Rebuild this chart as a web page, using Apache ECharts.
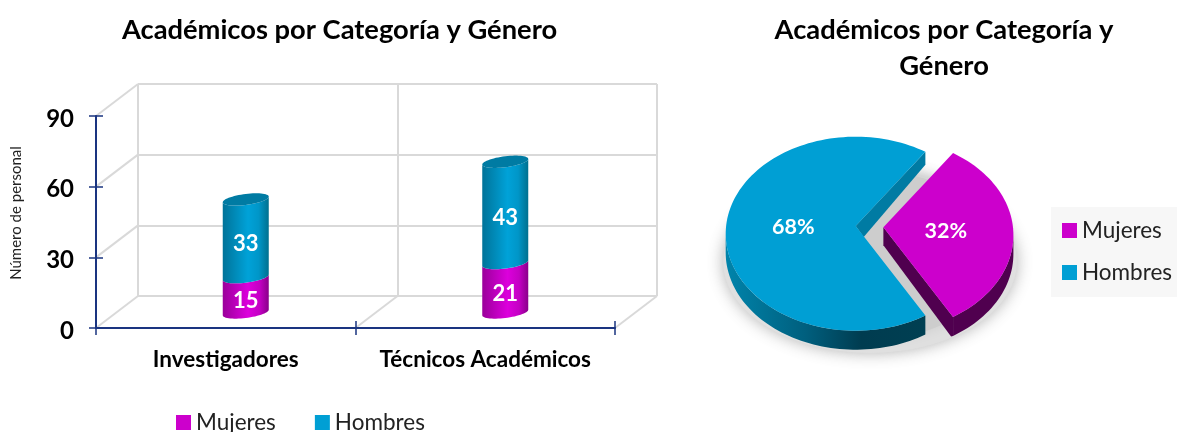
<!DOCTYPE html>
<html><head><meta charset="utf-8">
<style>html,body{margin:0;padding:0;background:#fff;overflow:hidden}#c{width:1177px;height:432px}</style>
<script src="https://cdn.jsdelivr.net/npm/echarts@6/dist/echarts.min.js"></script>
</head><body><div id="c"></div>
<script>
const categories = ['Investigadores', 'Técnicos Académicos'];
const mujeres = [15, 21];
const hombres = [33, 43];
const yTicks = [0, 30, 60, 90];
const pieMujeres = 32;
const pieHombres = 68;
const barTitle = 'Académicos por Categoría y Género';
const pieTitle = 'Académicos por Categoría y\nGénero';
const yName = 'Número de personal';

const FONT = 'Lato';
const NAVY = '#1a3480';
const WALL = '#d9d9d9';
const MAG = '#cc00cc';
const BLUE = '#009fd4';
const DEPTH = [42, -32];
const R = 23, RY = 5.5, TILT = -2.8;

function hGrad(stops) {
  return {type: 'linear', x: 0, y: 0, x2: 1, y2: 0, colorStops: stops.map(s => ({offset: s[0], color: s[1]}))};
}
function capPt(cx, cy, deg) {
  const a = deg * Math.PI / 180;
  return [cx + R * Math.cos(a), cy + RY * Math.sin(a) + TILT * Math.cos(a)];
}
function cylinder(opts) {
  return function (params, api) {
    const c = api.coord([api.value(0), api.value(1)]);
    const t = api.coord([api.value(0), api.value(2)]);
    const cx = c[0];
    const pts = [];
    for (let d = 0; d <= 180; d += 6) pts.push(capPt(cx, c[1], d));
    for (let d = 180; d >= 0; d -= 6) pts.push(capPt(cx, t[1], d));
    const children = [{type: 'polygon', shape: {points: pts}, style: {fill: hGrad(opts.stops)}}];
    if (opts.cap) {
      const cap = [];
      for (let d = 0; d < 360; d += 6) cap.push(capPt(cx, t[1], d));
      children.push({type: 'polygon', shape: {points: cap}, style: {fill: opts.cap}});
    }
    children.push({
      type: 'text',
      style: {
        x: cx, y: (c[1] + t[1]) / 2 + 6, text: String(api.value(2) - api.value(1)),
        fill: '#fff', font: 'bold 22px ' + FONT, align: 'center', verticalAlign: 'middle'
      }
    });
    return {type: 'group', children};
  };
}

// Pie geometry (pseudo-3D, elliptical)
const PIE = {
  rx: 130, ry: 97,
  hombres: {cx: 855.7, cy: 233.7, apexDy: -7.7, labelDy: -7},
  mujeres: {cx: 883.4, cy: 235, apexDy: -7.7, labelDy: -4}
};
const pieTotal = pieMujeres + pieHombres;
function ell(p, deg, dy) {
  const a = deg * Math.PI / 180;
  return [p.cx + PIE.rx * Math.cos(a), p.cy + PIE.ry * Math.sin(a) + (dy || 0)];
}
function arc(p, from, to, dy) {
  const out = [], n = Math.ceil(Math.abs(to - from) / 2);
  for (let i = 0; i <= n; i++) out.push(ell(p, from + (to - from) * i / n, dy));
  return out;
}
function pieLabel(p, deg, text) {
  const q = [p.cx + 0.48 * PIE.rx * Math.cos(deg * Math.PI / 180), p.cy + p.labelDy];
  return {type: 'text', style: {x: q[0], y: q[1], text, fill: '#fff', font: 'bold 21.5px ' + FONT, align: 'center', verticalAlign: 'middle'}};
}
function ellipsePts(cx, cy, rx, ry) {
  const pts = [];
  for (let t = 0; t < 360; t += 5) {
    const a = t * Math.PI / 180;
    pts.push([cx + rx * Math.cos(a), cy + ry * Math.sin(a)]);
  }
  return pts;
}
function renderHombres(params, api) {
  const half = 180 * (pieTotal - api.value(0)) / pieTotal;
  const p = PIE.hombres, d = 19;
  const apex = [p.cx, p.cy + p.apexDy];
  const a0 = half, a1 = 360 - half;
  const outer = arc(p, a0, 180).concat(arc(p, 180, a0, d));
  const top0 = ell(p, a1);
  const notch = [apex, top0, [top0[0], top0[1] + 13], [apex[0] + 8, apex[1] + 11]];
  return {type: 'group', children: [
    {type: 'polygon', shape: {points: ellipsePts(870, 262, 147, 91)}, style: {fill: '#e0e0e0', shadowBlur: 16, shadowColor: 'rgba(165,165,165,0.85)'}},
    {type: 'polygon', shape: {points: ellipsePts(872, 255, 126, 84)}, style: {fill: '#cdcdcd', shadowBlur: 14, shadowColor: '#cdcdcd'}},
    {type: 'polygon', shape: {points: outer}, style: {fill: hGrad([[0, '#0084ab'], [0.4, '#005f7e'], [0.68, '#003c50'], [1, '#003f52']])}},
    {type: 'polygon', shape: {points: notch}, style: {fill: '#007ba3'}},
    {type: 'polygon', shape: {points: [apex].concat(arc(p, a0, a1))}, style: {fill: BLUE}},
    pieLabel(p, 180, api.value(0) + '%')
  ]};
}
function renderMujeres(params, api) {
  const half = 180 * api.value(0) / pieTotal;
  const p = PIE.mujeres, d = 19;
  const apex = [p.cx, p.cy + p.apexDy];
  const outer = arc(p, 0, half).concat(arc(p, half, 0, d));
  const end = ell(p, half);
  const cut = [apex, end, [end[0], end[1] + d], [end[0] - 2, end[1] + d + 0.5], [apex[0], apex[1] + d - 1]];
  return {type: 'group', children: [
    {type: 'polygon', shape: {points: outer}, style: {fill: '#50004f'}},
    {type: 'polygon', shape: {points: cut}, style: {fill: '#50004f'}},
    {type: 'polygon', shape: {points: [apex].concat(arc(p, -half, half))}, style: {fill: MAG}},
    pieLabel(p, 0, api.value(0) + '%')
  ]};
}

function renderWall(params, api) {
  const a = api.coord([api.value(0), api.value(1)]);
  return {type: 'line', shape: {x1: a[0], y1: a[1], x2: a[0] + DEPTH[0], y2: a[1] + DEPTH[1]},
    style: {stroke: WALL, lineWidth: 2}};
}

const wallData = yTicks.map(v => [0, v]).concat([[1, 0], [2, 0]]);
const axisMax = yTicks[yTicks.length - 1];
const tickStep = yTicks[1] - yTicks[0];
const stackBase = categories.map((c, i) => [i, 0, mujeres[i]]);
const stackTop = categories.map((c, i) => [i, mujeres[i], mujeres[i] + hombres[i]]);

const option = {
  animation: false,
  backgroundColor: '#fff',
  title: [
    {text: barTitle, left: 334.5, top: 12, textAlign: 'center',
      textStyle: {fontFamily: FONT, fontWeight: 'bold', fontSize: 27.3, color: '#000'}},
    {text: pieTitle, left: 939, top: 7, textAlign: 'center',
      textStyle: {fontFamily: FONT, fontWeight: 'bold', fontSize: 27.3, color: '#000', lineHeight: 36}}
  ],
  legend: [
    {data: ['Mujeres', 'Hombres'], left: 176, top: 411, padding: 0, icon: 'rect', itemWidth: 15, itemHeight: 15, itemGap: 39,
      selectedMode: false, textStyle: {fontFamily: FONT, fontSize: 22.5, color: '#222'}},
    {data: ['Mujeres', 'Hombres'], orient: 'vertical', left: 1051, top: 207, padding: [12, 6, 13, 11], icon: 'rect', itemWidth: 15, itemHeight: 15, itemGap: 19,
      backgroundColor: '#f7f7f7', selectedMode: false, textStyle: {fontFamily: FONT, fontSize: 22.5, color: '#222'}}
  ],
  grid: [
    {left: 96, top: 116, width: 519, height: 212, containLabel: false},
    {left: 138, top: 84, width: 519, height: 212},
    {left: 116, top: 100.5, width: 519, height: 212}
  ],
  xAxis: [
    {type: 'category', gridIndex: 0, data: categories, z: 5,
      axisLine: {lineStyle: {color: NAVY, width: 2}},
      axisTick: {show: true, alignWithLabel: false, length: 7, lineStyle: {color: NAVY, width: 1.5}},
      axisLabel: {interval: 0, hideOverlap: false, fontFamily: FONT, fontWeight: 'bold', fontSize: 22.5, color: '#000', margin: 20}},
    {type: 'value', gridIndex: 0, min: 0, max: categories.length, interval: 1, position: 'bottom', z: 5,
      axisLine: {show: false}, splitLine: {show: false}, axisLabel: {show: false},
      axisTick: {show: true, inside: true, length: 7, lineStyle: {color: NAVY, width: 1.5}}},
    {type: 'category', gridIndex: 1, data: categories, axisLine: {show: false}, axisTick: {show: false}, axisLabel: {show: false},
      splitLine: {show: true, interval: 0, lineStyle: {color: WALL, width: 2}}},
    {type: 'category', gridIndex: 2, data: categories, show: false}
  ],
  yAxis: [
    {type: 'value', gridIndex: 0, min: 0, max: axisMax, interval: tickStep, z: 5, name: yName, nameLocation: 'middle', nameGap: 72,
      nameTextStyle: {fontFamily: FONT, fontSize: 15, color: '#222', padding: [0, 0, 0, 18]},
      axisLine: {show: true, lineStyle: {color: NAVY, width: 2}},
      axisTick: {show: true, length: 7, lineStyle: {color: NAVY, width: 1.5}},
      splitLine: {show: false},
      axisLabel: {margin: 22, formatter: '{n|{value}}',
        rich: {n: {fontFamily: FONT, fontWeight: 'bold', fontSize: 24, color: '#000', padding: [6, 0, 0, 0]}}}},
    {type: 'value', gridIndex: 0, min: 0, max: axisMax, interval: tickStep, position: 'left', z: 5,
      axisLine: {show: false}, splitLine: {show: false}, axisLabel: {show: false},
      axisTick: {show: true, inside: true, length: 7, lineStyle: {color: NAVY, width: 1.5}}},
    {type: 'value', gridIndex: 1, min: 0, max: axisMax, interval: tickStep, axisLine: {show: false}, axisTick: {show: false}, axisLabel: {show: false},
      splitLine: {show: true, lineStyle: {color: WALL, width: 2}}},
    {type: 'value', gridIndex: 2, min: 0, max: axisMax, show: false}
  ],
  series: [
    {type: 'custom', name: 'walls', xAxisIndex: 1, yAxisIndex: 0, silent: true, z: 1, data: wallData, renderItem: renderWall, encode: {x: 0, y: 1}},
    {type: 'custom', name: 'Mujeres', xAxisIndex: 3, yAxisIndex: 3, itemStyle: {color: MAG}, data: stackBase, encode: {x: 0, y: [1, 2]},
      renderItem: cylinder({stops: [[0, '#9a009a'], [0.55, '#dc00dc'], [0.8, '#c400c4'], [1, '#8a008a']]})},
    {type: 'custom', name: 'Hombres', xAxisIndex: 3, yAxisIndex: 3, itemStyle: {color: BLUE}, data: stackTop, encode: {x: 0, y: [1, 2]},
      renderItem: cylinder({stops: [[0, '#007399'], [0.55, '#00a2d8'], [0.78, '#0096c8'], [1, '#00708f']], cap: '#007ba3'})},
    {type: 'custom', name: 'Hombres', coordinateSystem: 'none', itemStyle: {color: BLUE}, data: [[pieHombres]], renderItem: renderHombres},
    {type: 'custom', name: 'Mujeres', coordinateSystem: 'none', itemStyle: {color: MAG}, data: [[pieMujeres]], renderItem: renderMujeres}
  ]
};
echarts.init(document.getElementById('c'), null, {renderer: 'canvas'}).setOption(option);
</script></body></html>
